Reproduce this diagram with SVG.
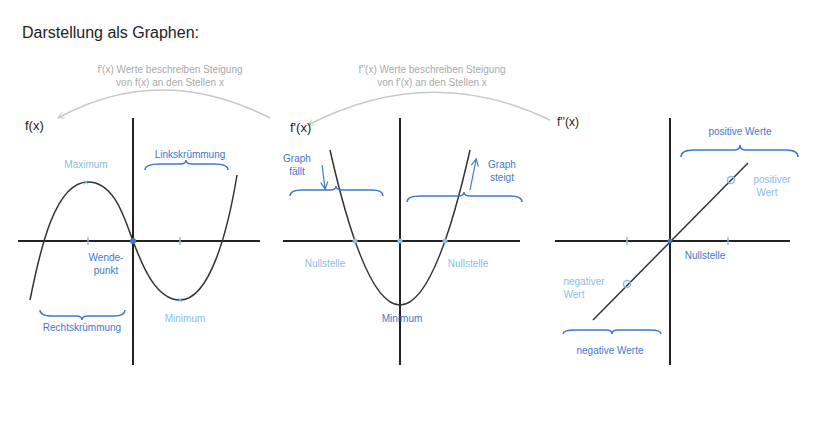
<svg xmlns="http://www.w3.org/2000/svg" width="828" height="421" viewBox="0 0 828 421">
<style>
text{font-family:"Liberation Sans",Arial,sans-serif}
.ax{stroke:#222;stroke-width:2;fill:none}
.cv{stroke:#333;stroke-width:1.5;fill:none}
.lb{fill:#8cbde6;font-size:10px}
.db{fill:#3f78cc;font-size:10px}
.br{stroke:#3f78cc;stroke-width:1.5;fill:none}
.gr{stroke:#c8c8c8;stroke-width:1.5;fill:none}
.gt{fill:#aaa;font-size:10px;text-anchor:middle}
.tk{stroke:#8cbde6;stroke-width:1.5}
</style>
<defs><marker id="ga" markerWidth="8" markerHeight="8" refX="7" refY="4" orient="auto" markerUnits="userSpaceOnUse"><path d="M1,1 L7,4 L1,7" stroke="#c8c8c8" fill="none"/></marker>
<marker id="ba" markerWidth="8" markerHeight="8" refX="6" refY="4" orient="auto"><path d="M1,1 L7,4 L1,7" stroke="#3f78cc" fill="none"/></marker></defs>
<rect width="828" height="421" fill="#fff"/>
<text x="22" y="38" font-size="16" fill="#222">Darstellung als Graphen:</text>
<g id="connectors">
<path class="gr" d="M270,118 Q160,62 58,118" marker-end="url(#ga)"/>
<path class="gr" d="M550,120 Q430,62 308,125" marker-end="url(#ga)"/>
</g>
<text class="gt" x="170" y="73">f'(x) Werte beschreiben Steigung</text>
<text class="gt" x="170" y="86">von  f(x) an den Stellen x</text>
<text class="gt" x="432" y="73">f''(x) Werte beschreiben Steigung</text>
<text class="gt" x="432" y="86">von f'(x) an den Stellen x</text>
<g id="graph1">
<text x="25" y="130" font-size="13" fill="#222">f(x)</text>
<line class="ax" x1="133" y1="118" x2="133" y2="365"/>
<line class="ax" x1="18" y1="241" x2="260" y2="241"/>
<path class="cv" d="M30,300 C40,250 55,182 88,182 C115,182 125,220 133,241 C141,262 155,300 180,300 C210,300 228,230 237,175"/>
<line class="tk" x1="88" y1="237" x2="88" y2="245"/><line class="tk" x1="180" y1="237" x2="180" y2="245"/>
<text class="lb" x="86" y="168" text-anchor="middle">Maximum</text>
<text class="lb" x="86" y="186" text-anchor="middle">×</text>
<text class="lb" x="180" y="304" text-anchor="middle">×</text>
<circle cx="133" cy="241" r="3" fill="#3f78cc"/>
<text class="db" x="190" y="158" text-anchor="middle">Linkskrümmung</text>
<path class="br" d="M145,170 Q145,164 160,164 L180,164 Q186,164 186,160 Q186,164 192,164 L214,164 Q228,164 228,170"/>
<text class="db" x="106" y="261" text-anchor="middle">Wende-</text>
<text class="db" x="106" y="274" text-anchor="middle">punkt</text>
<path class="br" d="M40,310 Q40,316 52,316 L76,316 Q82,316 82,320 Q82,316 88,316 L114,316 Q125,316 125,310"/>
<text class="db" x="82" y="331" text-anchor="middle">Rechtskrümmung</text>
<text class="lb" x="185" y="322" text-anchor="middle">Minimum</text>
</g>
<g id="graph2">
<text x="290" y="132" font-size="13" fill="#222">f'(x)</text>
<line class="ax" x1="400" y1="118" x2="400" y2="365"/>
<line class="ax" x1="283" y1="241" x2="520" y2="241"/>
<path class="cv" d="M330,150 Q400,460 470,150"/>
<circle cx="355" cy="241" r="2.5" fill="#8cbde6"/><circle cx="445" cy="241" r="2.5" fill="#8cbde6"/><circle cx="400" cy="241" r="2.5" fill="#8cbde6"/>
<text class="db" x="297" y="162" text-anchor="middle">Graph</text>
<text class="db" x="297" y="175" text-anchor="middle">fällt</text>
<line x1="322" y1="165" x2="325" y2="188" stroke="#3f78cc" stroke-width="1.2" marker-end="url(#ba)"/>
<path class="br" d="M290,196 Q290,190 302,190 L330,190 Q336,190 336,186 Q336,190 342,190 L372,190 Q383,190 383,196"/>
<text class="db" x="502" y="168" text-anchor="middle">Graph</text>
<text class="db" x="502" y="181" text-anchor="middle">steigt</text>
<line x1="470" y1="190" x2="476" y2="160" stroke="#3f78cc" stroke-width="1.2" marker-end="url(#ba)"/>
<path class="br" d="M407,202 Q407,196 420,196 L458,196 Q464,196 464,192 Q464,196 470,196 L510,196 Q522,196 522,202"/>
<text class="lb" x="325" y="267" text-anchor="middle">Nullstelle</text>
<text class="lb" x="468" y="267" text-anchor="middle">Nullstelle</text>
<text class="db" x="402" y="322" text-anchor="middle">Minimum</text>
</g>
<g id="graph3">
<text x="557" y="126" font-size="12" fill="#222">f''(x)</text>
<line class="ax" x1="670" y1="118" x2="670" y2="365"/>
<line class="ax" x1="555" y1="241" x2="790" y2="241"/>
<line class="cv" x1="593" y1="320" x2="748" y2="163"/>
<line class="tk" x1="627" y1="237" x2="627" y2="245"/><line class="tk" x1="728" y1="237" x2="728" y2="245"/>
<circle cx="670" cy="241" r="2.5" fill="#3f78cc"/>
<circle cx="731" cy="180" r="3.5" fill="none" stroke="#8cbde6" stroke-width="1.5"/>
<circle cx="627" cy="284" r="3.5" fill="none" stroke="#8cbde6" stroke-width="1.5"/>
<text class="db" x="740" y="135" text-anchor="middle">positive Werte</text>
<path class="br" d="M681,157 Q681,150 694,150 L734,150 Q740,150 740,145 Q740,150 746,150 L786,150 Q798,150 798,157"/>
<text class="lb" x="772" y="183" text-anchor="middle">positiver</text>
<text class="lb" x="767" y="196" text-anchor="middle">Wert</text>
<text class="db" x="705" y="259" text-anchor="middle">Nullstelle</text>
<text class="lb" x="584" y="285" text-anchor="middle">negativer</text>
<text class="lb" x="574" y="298" text-anchor="middle">Wert</text>
<path class="br" d="M563,334 Q563,330 575,330 L606,330 Q612,330 612,334 Q612,330 618,330 L650,330 Q661,330 661,334"/>
<text class="db" x="610" y="354" text-anchor="middle">negative Werte</text>
</g>
</svg>
